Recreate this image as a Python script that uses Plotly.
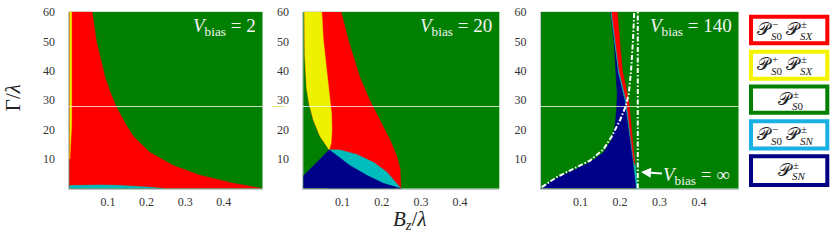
import plotly.graph_objects as go

W, H = 830, 240

# ---------------- data ----------------
X_TICKS = [0.1, 0.2, 0.3, 0.4]
X_TICK_TEXT = ["0.1", "0.2", "0.3", "0.4"]
Y_TICKS = [10, 20, 30, 40, 50, 60]
Y_TICK_TEXT = ["10", "20", "30", "40", "50", "60"]
V_BIAS = ["2", "20", "140"]

# Panel 1 (V_bias = 2): red/green boundary
P1_RED_EDGE_X = [0.059, 0.070, 0.079, 0.092, 0.105, 0.122, 0.145, 0.166, 0.209, 0.269, 0.338, 0.424, 0.5]
P1_RED_EDGE_G = [60, 50, 45.2, 38, 33, 27.6, 22, 17.7, 12.2, 7.8, 4.5, 1.8, 0]
P1_YEL_X = [0.0, 0.006, 0.006, 0.004, 0.0015, 0.0]
P1_YEL_G = [60, 60, 22, 13, 10, 10]
P1_CYAN_TOP_X = [0.0, 0.04, 0.08, 0.12, 0.17, 0.21, 0.245]
P1_CYAN_TOP_G = [1.0, 1.15, 1.2, 1.1, 0.8, 0.45, 0]

# Panel 2 (V_bias = 20)
P2_YEL_LEFT_X = [0.003, 0.004, 0.0085, 0.015, 0.026, 0.043, 0.060, 0.066]
P2_YEL_LEFT_G = [60, 45, 34, 28.7, 23.2, 17.7, 14.4, 13.2]
P2_YEL_RIGHT_X = [0.047, 0.051, 0.060, 0.068, 0.072, 0.073, 0.071, 0.066]
P2_YEL_RIGHT_G = [60, 50.7, 39.7, 30.9, 25.4, 19.8, 15.4, 13.2]
P2_NAVY_TOP_X = [0.0, 0.034, 0.066]
P2_NAVY_TOP_G = [4.3, 8.8, 13.2]
P2_NAVY_CYAN_X = [0.066, 0.119, 0.162, 0.204, 0.249]
P2_NAVY_CYAN_G = [13.2, 7.8, 4.5, 1.76, 0]
P2_CYAN_TOP_X = [0.066, 0.094, 0.136, 0.179, 0.213, 0.238, 0.249]
P2_CYAN_TOP_G = [13.2, 13.1, 11.6, 8.9, 5.6, 1.75, 0]
P2_RED_RIGHT_X = [0.249, 0.247, 0.238, 0.221, 0.196, 0.170, 0.145, 0.119, 0.096]
P2_RED_RIGHT_G = [0, 6.7, 11.1, 16.6, 23.2, 29.8, 37.5, 48.5, 60]

# Panel 3 (V_bias = 140)
P3_NAVY_LEFT_X = [0.0, 0.04, 0.082, 0.124, 0.158, 0.179, 0.187, 0.191, 0.193, 0.190, 0.185, 0.176]
P3_NAVY_LEFT_G = [0, 3.6, 6.2, 8.9, 12.2, 16.6, 21, 26.5, 32, 40, 50, 60]
P3_NAVY_RIGHT_X = [0.176, 0.195, 0.213, 0.233, 0.242]
P3_NAVY_RIGHT_G = [60, 40, 30, 10, 0]
P3_CYAN_X = [0.176, 0.180, 0.199, 0.217, 0.237, 0.2445, 0.242, 0.233, 0.213, 0.195]
P3_CYAN_G = [60, 60, 40, 30, 10, 0, 0, 10, 30, 40]
P3_RED_X = [0.179, 0.198, 0.216, 0.235, 0.238, 0.222, 0.206, 0.193]
P3_RED_G = [60, 40, 30, 9, 8, 30, 40, 60]
P3_ASYM_X = [0.002, 0.04, 0.082, 0.124, 0.158, 0.179, 0.200, 0.215, 0.222, 0.228, 0.233, 0.236]
P3_ASYM_G = [0.5, 3.9, 6.7, 9.5, 13.3, 17.7, 23.2, 28.1, 32, 40, 50.7, 60]
P3_VINF_X = [0.245, 0.245]
P3_VINF_G = [0, 60]

# Legend entries: (border colour key, [(sup, sub), ...])
LEGEND = [
    ("red", [("−", "<i>S</i>0"), ("±", "<i>SX</i>")]),
    ("yellow", [("+", "<i>S</i>0"), ("±", "<i>SX</i>")]),
    ("green", [("±", "<i>S</i>0")]),
    ("cyanleg", [("−", "<i>S</i>0"), ("±", "<i>SN</i>")]),
    ("navy", [("±", "<i>SN</i>")]),
]

# ---------------- style ----------------
C = {
    "red": "#ff0000",
    "yellow": "#eef200",
    "green": "#007f00",
    "cyan": "#00bdbd",
    "navy": "#000088",
}
LEG_BORDER = {"red": "#ff0000", "yellow": "#f4f400", "green": "#007f00",
              "cyanleg": "#19b0e3", "navy": "#000080"}
SERIF = "Liberation Serif, DejaVu Serif, serif"


def px_x(p):
    return p / W


def px_y(p):
    return 1 - p / H


PANELS_PX = [(69.3, 262.5), (303.3, 499.3), (541.0, 738.5)]
Y_DOM = [px_y(187), px_y(5)]

fig = go.Figure()


def poly(xs, ys, color, k):
    fig.add_trace(go.Scatter(
        x=xs, y=ys, fill="toself", fillcolor=color, mode="lines",
        line=dict(color=color, width=0.5), hoverinfo="skip", showlegend=False,
        xaxis="x" if k == 1 else f"x{k}", yaxis="y" if k == 1 else f"y{k}"))


def line(xs, ys, k):
    fig.add_trace(go.Scatter(
        x=xs, y=ys, mode="lines", line=dict(color="white", width=2, dash="5px,2px,1.5px,2px"),
        hoverinfo="skip", showlegend=False,
        xaxis="x" if k == 1 else f"x{k}", yaxis="y" if k == 1 else f"y{k}"))


# Panel 1
poly([0, 0] + P1_RED_EDGE_X, [0, 60] + P1_RED_EDGE_G, C["red"], 1)
poly(P1_YEL_X, P1_YEL_G, C["yellow"], 1)
poly(P1_CYAN_TOP_X + [0], P1_CYAN_TOP_G + [0], C["cyan"], 1)

# Panel 2
poly(P2_YEL_LEFT_X + [P2_NAVY_CYAN_X[0], P2_RED_RIGHT_X[0]] + P2_RED_RIGHT_X,
     P2_YEL_LEFT_G + [0, 0] + P2_RED_RIGHT_G, C["red"], 2)
poly(P2_YEL_LEFT_X + P2_YEL_RIGHT_X[::-1], P2_YEL_LEFT_G + P2_YEL_RIGHT_G[::-1], C["yellow"], 2)
poly(P2_CYAN_TOP_X + [P2_CYAN_TOP_X[0]], P2_CYAN_TOP_G + [0], C["cyan"], 2)
poly([0] + P2_NAVY_TOP_X + P2_NAVY_CYAN_X[1:], [0] + P2_NAVY_TOP_G + P2_NAVY_CYAN_G[1:], C["navy"], 2)

# Panel 3
poly(P3_NAVY_LEFT_X + P3_NAVY_RIGHT_X, P3_NAVY_LEFT_G + P3_NAVY_RIGHT_G, C["navy"], 3)
poly(P3_CYAN_X, P3_CYAN_G, C["cyan"], 3)
poly(P3_RED_X, P3_RED_G, C["red"], 3)
line(P3_ASYM_X, P3_ASYM_G, 3)
line(P3_VINF_X, P3_VINF_G, 3)

axis_common = dict(showgrid=False, zeroline=False, showline=True, linecolor="#c4c4cc",
                   linewidth=1, ticks="", tickfont=dict(family=SERIF, size=12, color="#333"),
                   fixedrange=True, ticklabeloverflow="allow")
layout = dict(width=W, height=H, margin=dict(l=0, r=0, t=0, b=0),
              paper_bgcolor="white", plot_bgcolor=C["green"], showlegend=False)
for i, (a, b) in enumerate(PANELS_PX, start=1):
    sx = "" if i == 1 else str(i)
    layout[f"xaxis{sx}"] = dict(axis_common, domain=[px_x(a), px_x(b)], range=[0, 0.5],
                                tickvals=X_TICKS, ticktext=X_TICK_TEXT, anchor=f"y{sx}",
                                ticklabelstandoff=2)
    layout[f"yaxis{sx}"] = dict(axis_common, domain=Y_DOM, range=[0, 60],
                                tickvals=Y_TICKS, ticktext=Y_TICK_TEXT, anchor=f"x{sx}",
                                ticklabelstandoff=11)
fig.update_layout(**layout)

ann = []
shapes = []
# V_bias labels (top-right of each panel)
for (a, b), v in zip(PANELS_PX, V_BIAS):
    ann.append(dict(xref="paper", yref="paper", x=px_x(b - 5), y=px_y(21), xanchor="right",
                    yanchor="middle", showarrow=False,
                    text=f"<i>V</i><sub>bias</sub> = {v}",
                    font=dict(family=SERIF, size=19, color="#f4f4f4")))
# V_bias = infinity arrow
ann.append(dict(xref="x3", yref="y3", x=0.253, y=5.6, axref="pixel", ayref="pixel",
                ax=56, ay=4, showarrow=True, arrowhead=2, arrowsize=1, arrowwidth=2,
                arrowcolor="white", text="<i>V</i><sub>bias</sub> = ∞",
                font=dict(family=SERIF, size=19, color="#f4f4f4")))
# axis titles
ann.append(dict(xref="paper", yref="paper", x=px_x(410), y=px_y(219), xanchor="center",
                yanchor="middle", showarrow=False,
                text="<i>B<sub>z</sub></i>/<i>λ</i>",
                font=dict(family=SERIF, size=21, color="#222")))
ann.append(dict(xref="paper", yref="paper", x=px_x(13), y=px_y(94), xanchor="center",
                yanchor="middle", showarrow=False, textangle=-90,
                text="Γ/<i>λ</i>", font=dict(family=SERIF, size=21, color="#222")))

# faint horizontal white line across panels
shapes.append(dict(type="line", xref="paper", yref="paper", x0=px_x(69.3), x1=px_x(738.5),
                   y0=px_y(102.5), y1=px_y(102.5), line=dict(color="rgba(255,255,255,0.75)", width=1),
                   layer="above"))
shapes.append(dict(type="line", xref="paper", yref="paper", x0=px_x(272), x1=px_x(285),
                   y0=px_y(102.5), y1=px_y(102.5), line=dict(color="#e6e680", width=1)))

# legend boxes
BOX_Y = [(8, 39.3), (44, 76), (80, 111), (115.7, 147.7), (151.7, 185.3)]
for (key, terms), (t, b) in zip(LEGEND, BOX_Y):
    shapes.append(dict(type="rect", xref="paper", yref="paper",
                       x0=px_x(751), x1=px_x(827.3), y0=px_y(t + 2), y1=px_y(b - 2),
                       fillcolor="white", line=dict(color=LEG_BORDER[key], width=4)))
    yc = (t + b) / 2
    if len(terms) == 2:
        starts = [755, 784]
    else:
        starts = [776]
    for xs, (sup, sub) in zip(starts, terms):
        ann.append(dict(xref="paper", yref="paper", x=px_x(xs), y=px_y(yc - 1), xanchor="left",
                        yanchor="middle", showarrow=False, text="𝒫",
                        font=dict(family=SERIF, size=18, color="#222")))
        ann.append(dict(xref="paper", yref="paper", x=px_x(xs + 15), y=px_y(yc - 6), xanchor="left",
                        yanchor="middle", showarrow=False, text=sup,
                        font=dict(family=SERIF, size=11, color="#222")))
        ann.append(dict(xref="paper", yref="paper", x=px_x(xs + 14), y=px_y(yc + 6), xanchor="left",
                        yanchor="middle", showarrow=False, text=sub,
                        font=dict(family=SERIF, size=11, color="#222")))

fig.update_layout(annotations=ann, shapes=shapes)
fig.write_html("out.html", config={"displayModeBar": False, "staticPlot": True},
               post_script="document.body.style.margin='0';document.body.style.padding='0';"
                           "document.documentElement.style.overflow='hidden';")
